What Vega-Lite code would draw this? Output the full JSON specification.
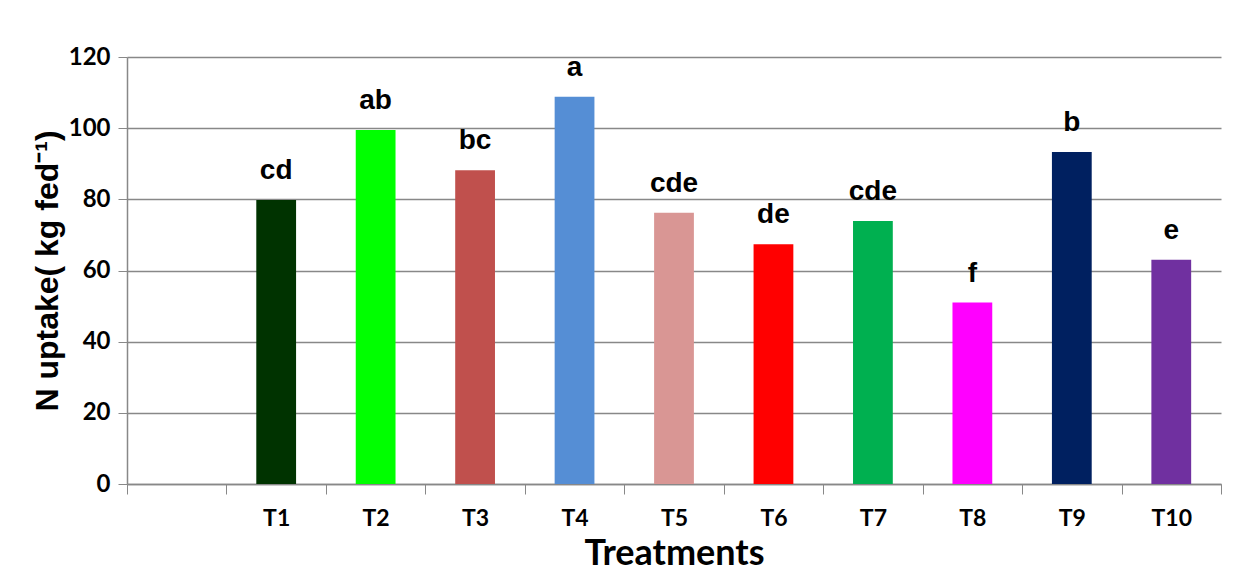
{
  "$schema": "https://vega.github.io/schema/vega-lite/v6.json",
  "autosize": "none",
  "width": 1094,
  "height": 427,
  "padding": {"left": 127, "top": 57, "right": 17, "bottom": 92},
  "background": "white",
  "data": {
    "values": [
      {"treatment": "T1", "uptake": 79.8, "sig": "cd"},
      {"treatment": "T2", "uptake": 99.5, "sig": "ab"},
      {"treatment": "T3", "uptake": 88.2, "sig": "bc"},
      {"treatment": "T4", "uptake": 108.8, "sig": "a"},
      {"treatment": "T5", "uptake": 76.2, "sig": "cde"},
      {"treatment": "T6", "uptake": 67.4, "sig": "de"},
      {"treatment": "T7", "uptake": 73.9, "sig": "cde"},
      {"treatment": "T8", "uptake": 51.0, "sig": "f"},
      {"treatment": "T9", "uptake": 93.3, "sig": "b"},
      {"treatment": "T10", "uptake": 63.0, "sig": "e"}
    ]
  },
  "config": {
    "view": {"stroke": null},
    "axis": {
      "gridColor": "#888888",
      "domainColor": "#888888",
      "tickColor": "#888888",
      "labelColor": "black",
      "titleColor": "black"
    }
  },
  "encoding": {
    "x": {
      "field": "treatment",
      "type": "nominal",
      "sort": null,
      "scale": {
        "domain": [" ", "T1", "T2", "T3", "T4", "T5", "T6", "T7", "T8", "T9", "T10"],
        "paddingInner": 0,
        "paddingOuter": 0
      },
      "axis": {
        "title": "Treatments",
        "titleFont": "Lato",
        "titleFontSize": 36,
        "titleFontWeight": "bold",
        "titlePadding": 6,
        "labelFont": "Lato",
        "labelFontSize": 23,
        "labelFontWeight": "bold",
        "labelAngle": 0,
        "labelPadding": 13,
        "tickBand": "extent",
        "tickSize": 10,
        "grid": false,
        "domainWidth": 1.5
      }
    },
    "y": {
      "field": "uptake",
      "type": "quantitative",
      "scale": {"domain": [0, 120], "nice": false},
      "axis": {
        "title": "N uptake( kg fed⁻¹)",
        "titleFont": "Liberation Sans",
        "titleFontSize": 32,
        "titleFontWeight": "bold",
        "titlePadding": 4,
        "labelFont": "Lato",
        "labelFontSize": 24,
        "labelFontWeight": "bold",
        "labelPadding": 8,
        "tickSize": 9,
        "values": [0, 20, 40, 60, 80, 100, 120],
        "grid": true,
        "gridWidth": 1.5,
        "domainWidth": 1.5
      }
    }
  },
  "layer": [
    {
      "mark": {"type": "bar", "width": {"band": 0.4}},
      "encoding": {
        "color": {
          "field": "treatment",
          "type": "nominal",
          "legend": null,
          "scale": {
            "domain": ["T1", "T2", "T3", "T4", "T5", "T6", "T7", "T8", "T9", "T10"],
            "range": ["#003300", "#00FF00", "#C0504D", "#558ED5", "#D99694", "#FF0000", "#00B050", "#FF00FF", "#002060", "#7030A0"]
          }
        }
      }
    },
    {
      "mark": {
        "type": "text",
        "font": "Liberation Sans",
        "fontSize": 28,
        "fontWeight": "bold",
        "baseline": "alphabetic",
        "dy": -21,
        "color": "black"
      },
      "encoding": {"text": {"field": "sig"}}
    }
  ]
}
